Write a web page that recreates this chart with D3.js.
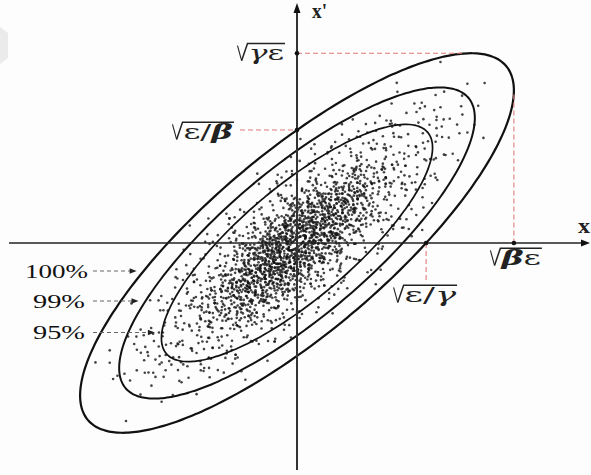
<!DOCTYPE html>
<html>
<head>
<meta charset="utf-8">
<script src="https://cdn.jsdelivr.net/npm/d3@7"></script>
<style>
  html, body { margin: 0; padding: 0; background: #fdfdfd; }
  svg { display: block; }
</style>
</head>
<body>
<svg id="chart" width="591" height="475"></svg>
<script>
// Twiss parameters of the beam ellipse  γx² + 2αxx' + βx'² = ε
const twissAlpha = -1.35;
const twissBeta = 1.92;

// Contours of the particle distribution: label and emittance each one encloses
const contourLabels = ["100%", "99%", "95%"];
const contourEmittance = [2.45, 1.647, 0.957];

// Particles in normalised phase space, as flat pairs:
// amplitude (percent of the full-emittance radius), phase (degrees)
const particles = [
28,17,43,203,13,288,57,121,22,334,6,95,35,251,18,62,47,149,30,312,10,188,40,27,24,231,66,76,15,163,33,349,20,110,51,270,26,5,37,138,
19,244,31,81,45,319,9,13,55,196,23,127,36,42,14,265,27,173,41,356,7,301,34,214,21,98,62,229,12,56,29,140,39,277,49,33,17,184,25,291,
33,157,16,22,58,340,24,71,11,209,42,119,20,283,36,8,28,236,5,164,46,259,30,47,14,325,38,192,22,103,52,298,26,178,68,11,19,141,40,66,
26,223,44,87,12,151,31,306,18,37,54,172,37,264,9,342,23,199,41,130,29,15,15,108,48,241,21,355,35,92,63,315,27,274,7,59,33,227,17,186,
39,302,22,169,6,247,50,54,29,118,14,6,34,338,24,84,45,190,19,257,59,143,11,223,32,30,27,295,42,161,16,72,37,212,20,330,70,246,25,133,
15,281,35,2,21,147,47,232,10,120,27,340,57,262,30,177,18,44,40,99,24,315,13,236,43,23,32,198,8,285,53,112,20,67,38,154,28,268,65,350,
31,39,17,305,46,129,25,252,12,76,56,11,22,198,36,279,6,171,29,92,41,243,19,348,34,57,14,203,51,167,26,320,39,135,23,18,61,298,33,224,
20,91,38,183,9,33,28,271,48,358,16,148,24,205,43,63,33,322,13,256,55,93,21,11,30,286,40,218,7,132,26,45,35,110,18,339,64,174,45,259,
25,350,42,45,14,211,34,138,22,297,52,217,11,4,29,63,37,260,19,106,46,311,27,187,8,252,31,169,58,28,17,79,39,332,23,241,67,123,13,158,
36,196,21,29,49,283,15,124,27,344,10,230,44,151,32,73,18,261,60,353,24,112,6,16,38,307,29,235,41,4,14,178,26,97,53,140,20,329,72,205,
23,61,35,318,12,193,47,97,30,209,17,339,54,263,26,150,40,31,9,276,33,12,20,189,44,228,28,301,15,85,57,170,38,239,22,125,62,54,31,101,
18,214,29,157,43,341,8,88,34,35,50,186,24,271,13,301,39,82,21,242,59,312,27,14,36,165,16,127,46,258,11,197,31,324,25,51,66,283,41,116,
27,132,14,48,37,226,52,8,22,265,32,94,10,337,45,166,19,119,29,291,7,214,40,49,25,178,56,304,17,238,34,146,21,3,48,84,69,21,30,250,
33,275,20,213,48,114,26,37,15,172,41,287,12,20,30,243,55,53,23,330,37,200,9,104,28,59,44,349,18,289,61,188,25,153,35,82,16,358,63,101,
21,171,45,306,30,22,13,242,38,128,27,349,50,226,17,93,34,185,8,144,42,69,24,252,58,110,19,23,31,274,11,315,26,206,40,162,36,333,71,313,
29,89,16,198,52,255,35,161,22,12,43,201,13,66,26,313,39,42,6,224,31,131,20,287,47,8,24,183,57,246,18,139,33,300,41,77,28,213,65,144,
40,221,25,99,10,266,32,18,19,135,46,327,28,190,14,345,36,106,53,281,22,247,30,53,9,160,43,240,17,7,38,175,26,119,60,82,34,292,23,34,
14,100,37,248,24,299,49,162,30,87,20,352,11,218,42,15,27,146,56,210,33,340,17,178,45,61,7,328,29,264,39,122,21,71,52,320,25,197,68,231,
32,328,19,52,44,180,26,232,12,117,36,276,51,32,23,158,15,286,40,194,28,2,58,95,21,209,9,43,34,245,47,135,30,74,17,268,38,352,62,171,
24,18,39,167,16,227,31,120,48,290,11,349,28,79,43,229,20,134,54,338,35,263,8,192,26,301,14,152,41,91,22,246,57,46,33,204,29,326,74,262,
35,43,22,310,13,138,44,256,28,174,17,10,50,109,31,225,9,292,38,70,25,333,58,217,20,86,33,188,46,27,15,249,27,153,41,305,24,64,60,128,
17,257,31,4,42,141,25,287,10,54,36,211,53,348,22,101,29,266,6,133,39,321,19,164,47,83,27,239,34,38,13,306,44,196,23,345,56,154,66,339,
26,102,46,228,19,339,33,57,12,169,41,356,24,199,57,70,29,313,15,38,37,154,21,282,51,117,8,260,32,229,43,185,27,35,18,214,35,268,70,94,
38,5,21,198,29,132,11,69,47,269,25,318,16,157,42,117,31,253,55,181,20,41,35,89,9,215,27,347,44,295,14,26,33,176,23,235,61,334,30,66,
22,145,34,273,50,37,14,212,27,77,40,239,9,334,31,157,18,299,45,8,25,220,56,283,20,113,37,342,12,85,29,203,48,171,24,4,36,118,64,47,
30,238,17,72,43,318,23,191,52,133,13,255,35,27,27,112,7,6,39,174,21,356,47,214,32,85,19,219,58,264,25,161,41,48,15,326,33,292,69,186,
20,306,41,111,28,51,12,294,36,169,48,246,24,22,16,171,33,339,55,73,26,138,8,103,44,203,30,311,19,122,38,264,23,87,52,343,14,231,63,239,
28,175,15,229,37,46,53,165,22,67,31,292,10,148,45,97,26,241,18,354,42,283,34,131,6,265,29,17,49,320,21,122,40,217,24,319,59,10,35,155,
42,326,26,210,12,4,35,244,20,141,50,71,29,259,16,58,38,299,23,118,57,231,31,347,9,186,45,153,19,201,33,28,27,95,14,276,47,51,71,116,
16,135,33,81,47,197,21,15,30,262,11,310,40,148,25,355,54,291,18,24,36,203,8,77,28,323,43,254,22,175,60,143,26,41,38,109,31,226,65,20,
27,316,39,204,15,86,48,22,23,257,32,132,11,183,44,344,19,38,36,299,53,98,25,212,7,341,30,68,41,179,17,283,34,242,22,140,57,195,67,304,
34,113,21,250,51,293,13,175,29,34,42,80,18,325,37,153,25,201,9,71,46,234,31,359,16,108,55,4,23,288,39,19,28,251,43,128,20,186,62,77,
19,26,31,186,40,309,26,145,45,210,14,89,35,10,22,234,58,151,11,261,29,120,49,337,24,59,37,278,6,45,33,231,17,160,53,62,27,350,73,149,
31,263,46,143,20,47,38,326,13,225,27,97,55,237,23,14,35,181,9,312,42,108,18,278,29,207,49,56,26,135,16,247,40,284,32,39,60,302,24,195,
23,234,15,13,36,94,49,271,28,333,19,150,43,32,11,197,32,244,56,124,25,78,39,256,8,120,30,179,47,354,21,312,34,66,27,224,61,270,41,164,
37,88,26,358,13,255,44,160,20,205,33,242,51,14,17,116,29,308,40,226,10,29,58,196,23,40,35,131,27,282,15,61,46,281,31,165,21,322,68,58,
13,195,40,329,28,110,22,278,47,54,34,219,17,103,53,265,25,168,9,247,38,6,30,144,57,325,19,66,43,199,26,246,36,48,14,350,31,86,63,212,
44,274,29,25,18,178,35,301,24,127,12,321,50,203,27,75,39,139,21,234,46,96,32,280,7,229,41,332,16,12,55,147,28,293,23,105,37,222,72,334,
25,59,36,162,14,286,42,186,31,3,20,99,54,320,28,239,9,156,39,46,23,191,47,251,33,116,18,225,59,355,27,127,12,79,44,312,30,172,66,101,
30,193,18,319,48,99,26,26,37,273,13,137,43,243,22,76,52,181,33,297,16,200,40,36,8,349,28,155,56,226,21,274,35,174,24,331,45,142,64,290,
21,94,45,232,33,18,16,268,27,303,39,112,11,216,50,346,24,145,31,229,58,40,19,192,36,261,6,118,42,20,26,75,13,343,47,160,29,218,70,359,
35,349,24,121,12,62,41,217,29,157,52,279,18,5,33,189,47,324,22,28,15,206,38,95,27,266,56,84,9,293,31,111,44,253,20,138,36,35,61,207,
16,313,28,2,43,167,34,239,22,53,49,114,30,211,13,186,40,291,25,96,57,346,19,253,35,136,10,22,45,68,27,193,32,330,23,279,53,186,67,127,
29,148,40,47,20,266,46,306,14,112,33,220,55,167,24,338,37,78,17,203,28,26,43,132,9,304,31,262,50,223,22,172,38,318,26,86,15,8,62,250,
41,239,23,83,32,355,15,154,51,48,27,281,19,35,44,173,12,349,36,122,29,184,56,298,21,233,7,63,34,102,47,12,25,248,39,301,18,129,69,167,
24,287,37,186,13,242,30,71,45,337,20,164,53,211,28,31,16,99,41,275,33,253,10,157,48,78,26,222,59,4,22,305,35,60,19,275,42,127,74,43,
32,47,19,221,39,293,26,159,11,83,47,191,23,319,35,104,54,257,16,26,30,186,43,339,28,107,8,236,37,315,21,62,50,98,25,175,14,293,60,68,
18,173,42,18,27,244,35,197,22,311,13,57,48,151,31,280,57,120,24,205,38,357,20,94,45,272,10,189,29,147,52,39,33,239,16,323,40,85,65,227,
38,131,25,317,15,37,46,79,31,228,21,119,53,292,28,9,42,262,17,141,34,354,59,190,23,47,8,301,36,220,27,94,44,177,20,249,33,73,71,282,
26,262,14,183,34,111,49,245,21,343,38,210,29,52,11,236,44,116,24,24,55,337,32,165,17,311,40,151,27,225,6,195,36,290,22,3,48,278,63,325,
22,19,33,248,46,174,17,91,28,322,40,268,12,131,54,18,25,204,35,149,9,9,30,293,43,87,20,255,57,212,27,138,38,39,15,233,32,179,68,75,
31,123,20,337,41,64,27,199,15,278,48,321,24,170,36,230,11,101,52,126,29,5,18,59,43,283,33,88,23,309,56,253,7,345,38,183,26,105,66,199,
17,227,36,31,25,102,44,264,30,139,13,310,50,162,22,60,39,211,28,347,55,83,19,298,34,244,9,21,47,122,24,271,41,17,31,192,14,146,70,232,
43,78,28,183,16,321,37,17,23,140,49,298,32,257,12,235,41,190,26,63,58,160,20,31,35,304,8,113,45,246,30,114,22,220,18,7,52,213,61,8,
27,348,40,136,19,274,33,221,14,19,45,97,24,258,51,341,30,178,10,144,38,267,21,84,47,289,29,43,17,179,56,33,35,96,23,325,42,231,64,134,
20,55,32,289,48,200,25,129,13,4,39,48,28,226,54,99,16,243,35,328,22,171,44,43,30,254,11,82,41,299,26,14,59,239,18,152,34,212,72,313,
36,155,23,267,30,37,10,175,45,205,19,325,27,90,52,226,33,279,15,128,40,3,25,187,49,125,7,277,34,151,21,105,57,289,29,273,43,354,67,92,
12,272,39,317,26,79,47,143,21,226,35,11,17,119,53,46,30,203,42,169,24,352,9,238,36,254,28,124,58,298,19,67,45,188,33,306,23,39,62,176,
29,7,16,149,41,243,24,292,51,163,34,327,20,112,37,232,13,23,46,284,27,160,55,103,31,60,22,205,8,337,43,109,25,316,39,269,18,86,69,265,
33,214,44,352,21,177,27,54,14,306,50,145,30,296,18,248,38,93,25,343,57,196,11,47,36,169,23,274,47,236,28,102,40,328,16,218,32,13,63,59,
21,76,4,312,35,188,13,23,45,259,26,140,17,349,38,57,8,203,30,283,11,114,50,9,24,227,15,168,56,321,19,42,41,96,28,254,32,133,23,305,
30,11,13,236,24,97,41,172,8,331,19,281,35,49,15,125,50,208,21,3,26,267,4,158,38,316,11,64,28,192,45,79,17,243,56,148,23,22,32,289,
15,297,38,129,23,215,8,71,28,343,45,13,19,182,32,248,11,299,50,115,24,39,35,272,13,146,41,231,4,17,26,85,17,311,30,167,56,57,21,196,
26,211,45,322,17,104,32,29,11,166,21,257,50,297,13,354,38,183,4,236,24,131,28,66,8,121,35,309,19,220,15,44,41,353,56,200,30,81,23,149,
35,107,11,43,28,303,19,6,45,142,23,274,13,195,38,337,26,23,50,251,8,172,30,225,15,80,41,3,21,131,56,274,17,266,24,167,4,91,32,58,
19,339,32,175,8,264,24,52,41,123,15,215,28,3,50,164,11,91,38,246,21,317,45,204,4,45,30,137,13,278,35,341,23,102,56,31,17,158,26,233,
24,126,17,5,45,87,30,291,13,62,38,211,21,150,8,9,32,99,56,232,26,316,11,252,41,279,15,188,50,35,19,110,35,259,4,199,28,157,23,343,
11,213,28,48,38,265,21,187,50,330,15,114,24,348,35,142,4,283,41,67,17,222,32,329,26,155,8,106,45,242,13,26,56,99,19,285,30,15,23,84,
41,36,23,253,15,140,32,216,8,298,26,67,19,119,50,188,13,324,35,80,28,227,11,2,45,306,21,45,38,157,4,127,30,351,56,258,17,76,24,278,
28,325,8,165,35,232,17,30,45,167,21,292,13,89,41,18,24,205,56,82,30,259,15,250,50,124,11,313,19,172,38,94,4,339,32,7,26,188,23,117,
17,191,26,20,50,239,11,106,32,143,21,226,41,315,15,31,35,290,24,341,8,238,45,51,13,152,28,214,56,178,19,262,38,21,4,74,30,98,23,164,
32,269,21,128,8,52,38,189,24,331,45,116,15,78,28,125,11,345,50,1,19,232,35,167,26,59,4,217,41,237,13,121,23,283,17,335,56,129,30,44,
23,232,35,36,13,175,45,294,19,71,28,160,4,254,32,336,50,75,15,347,26,278,38,104,8,20,21,187,41,151,11,268,30,199,56,341,17,47,24,11,
13,247,41,164,26,93,19,325,35,223,8,142,50,46,23,18,30,117,15,198,45,250,11,36,28,286,56,108,21,102,38,300,17,124,32,190,4,296,24,61,
38,73,19,194,30,3,11,281,24,161,56,352,15,59,35,245,21,346,45,185,13,101,26,309,8,190,41,133,28,93,17,293,50,216,23,129,32,311,4,23,
26,148,11,226,21,16,45,220,32,80,17,266,38,349,24,197,8,84,50,137,13,305,35,109,19,201,56,291,28,30,4,179,41,264,15,130,30,239,23,56,
15,10,28,255,45,26,24,122,4,110,35,326,19,153,30,203,13,207,41,92,26,357,8,277,56,155,21,266,50,294,32,168,17,83,38,229,11,138,23,194,
30,174,41,300,11,177,26,250,19,48,50,352,23,310,15,237,35,14,4,348,32,218,21,83,45,135,28,133,13,266,56,64,8,355,38,171,17,211,24,104,
21,320,17,97,35,193,8,247,38,46,26,177,13,48,50,267,30,139,23,70,45,341,11,160,28,4,56,209,19,300,41,190,4,66,32,258,15,327,24,227,
45,120,24,263,13,331,30,58,21,150,11,29,38,223,17,211,56,37,26,333,8,315,35,95,19,12,50,170,28,180,15,89,32,293,23,242,4,224,41,4,
19,87,32,220,50,325,23,164,11,307,28,65,15,350,41,237,4,140,35,128,26,9,45,93,17,179,21,270,56,246,13,113,38,327,8,58,30,281,24,147,
35,22,15,273,26,122,8,327,41,200,21,56,30,311,13,218,56,90,24,285,45,232,17,139,32,112,11,189,50,60,19,208,4,273,28,341,23,174,38,260,
24,203,45,6,17,223,32,152,4,35,38,283,11,97,26,197,50,248,21,343,13,9,30,31,56,166,15,63,41,321,28,117,8,150,19,262,35,207,23,90,
11,262,26,312,41,182,19,116,50,19,24,67,13,164,35,355,28,248,8,218,45,104,17,35,30,193,4,317,56,314,21,210,38,140,15,298,32,45,23,337,
28,90,19,246,4,86,38,11,15,176,30,280,45,207,24,142,13,243,56,5,21,114,32,245,8,344,41,52,26,203,50,273,17,318,35,173,11,118,23,36,
41,258,13,133,30,88,23,313,56,268,17,54,35,206,8,183,28,19,21,200,45,327,11,78,26,169,19,355,38,121,4,302,50,153,32,342,15,224,24,37,
17,147,35,297,21,236,28,174,13,27,45,62,24,109,8,271,32,239,50,103,15,312,38,235,26,78,4,197,41,168,11,332,56,220,19,25,30,126,23,287,
32,333,24,15,11,147,41,84,19,234,26,293,15,286,50,215,4,6,35,61,30,70,13,346,45,278,21,30,38,203,17,115,56,121,8,126,28,271,23,212,
23,148,13,71,38,198,30,322,8,41,45,240,21,357,17,260,35,314,26,104,56,260,11,133,41,45,4,232,28,235,19,159,50,345,24,180,15,14,32,128,
26,36,50,167,15,211,35,262,21,104,11,282,30,6,41,297,17,170,4,98,24,318,38,77,13,199,45,13,28,150,8,232,56,12,19,128,32,205,23,267,
15,165,30,215,23,28,50,308,38,140,19,324,8,93,26,256,45,174,13,284,32,25,21,123,56,195,11,350,35,237,24,97,4,262,41,109,17,199,28,58,
38,179,17,340,28,197,11,16,41,335,24,242,32,91,13,117,21,298,56,148,4,70,45,257,19,69,35,331,26,185,15,272,50,83,8,311,30,165,23,48,
19,213,45,151,26,334,35,75,13,206,28,101,50,230,8,125,24,29,41,272,15,101,32,354,21,160,56,51,11,240,38,33,4,178,30,233,17,289,23,133,
24,301,11,323,32,131,21,243,45,52,15,191,38,299,26,46,4,245,50,194,19,35,28,318,13,59,41,206,35,151,8,57,23,11,56,283,30,325,17,171,
30,115,21,171,41,59,8,113,26,218,17,306,50,122,13,218,35,9,23,193,56,319,15,142,45,189,4,7,32,282,19,79,38,315,11,196,28,41,24,252,
13,311,38,250,24,74,17,174,30,195,45,278,8,160,21,320,56,226,28,282,11,75,41,127,19,181,35,289,4,120,26,211,50,69,15,5,32,71,23,224,
45,353,26,125,19,255,32,303,11,192,23,104,38,90,15,155,50,272,4,312,28,354,17,20,35,222,8,294,41,234,21,138,56,175,13,253,30,50,24,170,
21,199,35,133,15,118,41,12,24,252,8,5,50,44,30,154,13,230,26,350,45,219,19,294,32,263,4,101,56,107,17,233,38,195,11,47,28,111,23,316,
28,230,13,12,50,284,19,131,35,343,24,120,4,162,41,144,15,244,30,80,21,250,56,333,11,169,38,52,26,271,8,200,45,110,17,347,32,174,23,2,
32,16,23,187,8,28,45,286,17,232,30,122,13,140,56,244,26,130,38,321,11,264,21,92,41,213,4,350,35,167,19,317,50,1,15,66,28,301,24,81,
64,203,71,37,83,129,66,288,75,164,62,62,88,311,69,234,77,8,65,141,92,255,73,97,68,339,80,186,63,279,70,112,86,24,67,215,74,318,79,71,
66,155,72,262,62,352,81,207,69,43,76,123,64,318,90,89,71,187,67,245,84,6,63,132,78,296,65,76,73,222,95,168,68,271,61,18,75,190,70,336,
63,107,77,244,69,317,85,57,66,178,72,12,62,229,79,149,68,83,93,293,74,39,65,265,71,201,87,118,64,350,76,171,67,52,82,232,70,302,63,196,
73,25,65,219,80,92,68,158,62,285,89,345,71,136,76,208,64,3,70,247,83,184,67,118,74,277,63,161,97,47,69,305,78,35,66,98,72,169,61,238,
62,134,75,357,68,267,84,222,71,73,64,185,79,322,66,49,91,147,73,246,63,98,70,15,86,281,67,199,77,115,65,333,72,58,81,164,69,230,64,29,
70,178,63,339,78,56,66,240,85,297,72,126,62,203,75,85,68,19,94,213,71,278,64,68,82,356,67,147,74,4,61,259,79,193,65,310,88,102,69,327,
67,65,76,137,63,251,87,173,70,348,65,112,80,268,72,198,62,40,74,224,90,16,68,96,77,312,64,154,83,252,71,27,66,289,96,121,73,240,62,179,
69,286,64,48,81,20,67,193,75,321,63,77,89,166,70,304,78,103,66,13,72,141,85,237,62,298,74,176,68,255,92,60,65,207,79,354,71,89,63,225,
63,44,71,210,66,126,75,288,62,169,69,349,78,14,64,253,73,151,67,322,80,75,65,193,70,63,62,271,76,238,68,115,84,309,64,92,72,180,66,28,
65,335,70,142,63,231,77,84,67,3,62,119,74,262,69,183,81,225,64,306,72,35,66,159,79,340,63,64,71,284,68,207,75,131,62,45,87,261,67,245,
68,98,62,315,73,196,65,7,76,167,70,259,63,139,80,32,66,272,71,116,64,215,85,184,69,37,62,241,74,346,67,172,77,295,63,85,72,226,65,313
];

// Marker labels on the axes: radicands of the square roots
const markerRadicands = {
  xpMax:  [{ t: "γ", it: true }, { t: "ε" }],
  xpCut:  [{ t: "ε" }, { t: "/" }, { t: "β", it: true, bold: true }],
  xMax:   [{ t: "β", it: true, bold: true }, { t: "ε" }],
  xCut:   [{ t: "ε" }, { t: "/" }, { t: "γ", it: true }]
};

const twissGamma = (1 + twissAlpha * twissAlpha) / twissBeta;
const eps = contourEmittance[0];
const sqB = Math.sqrt(twissBeta);

const W = 591, H = 475;
const serif = "'Liberation Serif','Times New Roman',serif";
const greek = "'DejaVu Serif','Liberation Serif',serif";
const svg = d3.select("#chart");

const x = d3.scaleLinear().domain([-2.88, 2.93]).range([9, 590]);
const y = d3.scaleLinear().domain([-2.27, 2.39]).range([470, 4]);

// normalised coordinates (w, p) -> physical phase space (x, x')
function toPhase(w, p) {
  return [sqB * w, (p - twissAlpha * w) / sqB];
}

svg.append("rect").attr("width", W).attr("height", H).attr("fill", "#fdfdfd");
svg.append("path").attr("d", "M0,27 L8,33 L8,58 L0,64 Z").attr("fill", "#ebebeb");

// particle cloud
const pts = [];
for (let i = 0; i < particles.length; i += 2) {
  const a = particles[i] / 100 * Math.sqrt(eps);
  const th = particles[i + 1] * Math.PI / 180;
  pts.push(toPhase(a * Math.cos(th), a * Math.sin(th)));
}
svg.append("g").selectAll("circle").data(pts).join("circle")
  .attr("cx", d => x(d[0])).attr("cy", d => y(d[1]))
  .attr("r", 1.3).attr("fill", "#141414").attr("fill-opacity", 0.8);

// contour ellipses
const phases = d3.range(0, 360, 2).map(d => d * Math.PI / 180);
const line = d3.line().x(d => x(d[0])).y(d => y(d[1])).curve(d3.curveCardinalClosed);
contourEmittance.forEach((e, i) => {
  const r = Math.sqrt(e);
  svg.append("path")
    .attr("d", line(phases.map(t => toPhase(r * Math.cos(t), r * Math.sin(t)))))
    .attr("fill", "none").attr("stroke", "#111")
    .attr("stroke-width", i === 0 ? 2.2 : (i === 1 ? 2.0 : 1.7));
});

// axes
const x0 = x(0), y0 = y(0);
svg.append("line").attr("x1", x(-2.88)).attr("x2", x(2.93) - 4).attr("y1", y0).attr("y2", y0)
  .attr("stroke", "#222").attr("stroke-width", 1.6);
svg.append("line").attr("x1", x0).attr("x2", x0).attr("y1", y(-2.27)).attr("y2", y(2.39) + 5)
  .attr("stroke", "#333").attr("stroke-width", 2);
svg.append("path").attr("d", `M${x(2.93)},${y0} L${x(2.93) - 9},${y0 - 3.5} L${x(2.93) - 9},${y0 + 3.5} Z`).attr("fill", "#111");
svg.append("path").attr("d", `M${x0},${y(2.39) - 1} L${x0 - 3.5},${y(2.39) + 9} L${x0 + 3.5},${y(2.39) + 9} Z`).attr("fill", "#111");

svg.append("text").attr("x", x0 + 15).attr("y", 18).attr("font-family", serif)
  .attr("font-size", 20).attr("font-weight", "bold").attr("fill", "#222").text("x'")
  .attr("textLength", 15).attr("lengthAdjust", "spacingAndGlyphs");
svg.append("text").attr("x", 578).attr("y", 233).attr("font-family", serif)
  .attr("font-size", 20).attr("font-weight", "bold").attr("fill", "#222").text("x")
  .attr("textLength", 12).attr("lengthAdjust", "spacingAndGlyphs");

// characteristic points of the full ellipse
const xMax = Math.sqrt(twissBeta * eps);          // √βε
const xpAtXMax = -twissAlpha * Math.sqrt(eps / twissBeta);
const xpMax = Math.sqrt(twissGamma * eps);        // √γε
const xAtXpMax = -twissAlpha * Math.sqrt(eps / twissGamma);
const xpCut = Math.sqrt(eps / twissBeta);         // √(ε/β)
const xCut = Math.sqrt(eps / twissGamma);         // √(ε/γ)

const red = { stroke: "#e07a7a", "stroke-width": 1.1, "stroke-dasharray": "5,3" };
function dashed(x1, y1, x2, y2) {
  const l = svg.append("line").attr("x1", x1).attr("y1", y1).attr("x2", x2).attr("y2", y2);
  Object.entries(red).forEach(([k, v]) => l.attr(k, v));
}
dashed(x0, y(xpMax), x(xAtXpMax) - 8, y(xpMax));
dashed(x0 - 57, y(xpCut), x0, y(xpCut));
dashed(x(xMax), y(xpAtXMax) + 4, x(xMax), y0);
dashed(x(xCut), y0, x(xCut), y0 + 39);

[[0, xpMax], [0, xpCut], [xMax, 0], [xCut, 0]].forEach(([a, b]) => {
  svg.append("circle").attr("cx", x(a)).attr("cy", y(b)).attr("r", 2.3).attr("fill", "#111");
});

// square-root labels
function radical(parts, left, baseline, width, fs) {
  const g = svg.append("g").attr("transform", `translate(${left},${baseline})`);
  const rw = fs * 0.5;
  const top = -fs * 0.80;
  g.append("path").attr("d", `M0.5,${-fs * 0.70} L${fs * 0.22},${fs * 0.02}`)
    .attr("stroke", "#222").attr("stroke-width", 1.1).attr("fill", "none");
  g.append("path").attr("d", `M${fs * 0.22},${fs * 0.02} L${rw},${top} L${width},${top}`)
    .attr("stroke", "#222").attr("stroke-width", 1.5).attr("fill", "none");
  const t = g.append("text").attr("x", rw + 1).attr("y", 0)
    .attr("font-family", greek).attr("font-size", fs).attr("fill", "#222")
    .attr("textLength", width - rw - 2).attr("lengthAdjust", "spacingAndGlyphs");
  parts.forEach(p => t.append("tspan").text(p.t)
    .attr("font-style", p.it ? "italic" : null)
    .attr("font-weight", p.bold ? "bold" : null));
}
radical(markerRadicands.xpMax, x0 - 60, y(xpMax) + 7, 48, 21);
radical(markerRadicands.xpCut, x0 - 125, y(xpCut) + 9, 62, 21);
radical(markerRadicands.xMax, x(xMax) - 24, y0 + 22, 52, 21);
radical(markerRadicands.xCut, x(xCut) - 33, y0 + 59, 64, 21);

// contour labels with dashed arrows
const labelLevels = [-0.28, -0.58, -0.895];
const labelLeft = [25, 33, 33];
const labelWidth = [63, 52, 52];
function leftEdge(e, xp) {
  const disc = twissAlpha * twissAlpha * xp * xp - twissGamma * (twissBeta * xp * xp - e);
  return (-twissAlpha * xp - Math.sqrt(disc)) / twissGamma;
}
contourLabels.forEach((lab, i) => {
  const ly = y(labelLevels[i]);
  svg.append("text").attr("x", labelLeft[i]).attr("y", ly + 6.5)
    .attr("font-family", serif).attr("font-size", 19).attr("fill", "#111")
    .attr("textLength", labelWidth[i]).attr("lengthAdjust", "spacingAndGlyphs").text(lab);
  const tip = x(leftEdge(contourEmittance[i], labelLevels[i])) - 7;
  svg.append("line").attr("x1", 93).attr("x2", tip - 5).attr("y1", ly).attr("y2", ly)
    .attr("stroke", "#666").attr("stroke-width", 1).attr("stroke-dasharray", "4,3");
  svg.append("path").attr("d", `M${tip},${ly} L${tip - 7},${ly - 2.8} L${tip - 7},${ly + 2.8} Z`).attr("fill", "#222");
});
</script>
</body>
</html>
